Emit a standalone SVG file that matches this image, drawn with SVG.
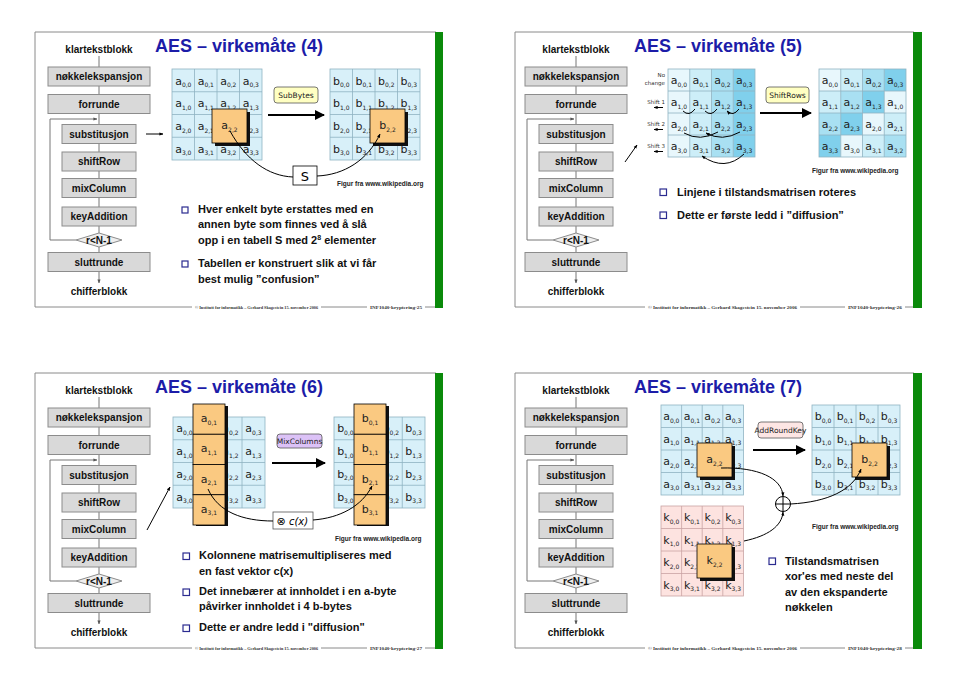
<svg xmlns="http://www.w3.org/2000/svg" width="960" height="684" viewBox="0 0 960 684">
<defs>
<style>
.frame{fill:none;stroke:#8a8a8a;stroke-width:1}
.green{fill:#0a8a0a}
.box{fill:#d9d9d9;stroke:#8c8c8c;stroke-width:1}
.dia{fill:#eeeeee;stroke:#8c8c8c;stroke-width:1}
.ln{fill:none;stroke:#777;stroke-width:1}
.lbl{font-family:"Liberation Sans",Arial,sans-serif;font-weight:bold;font-size:10px;fill:#111;text-anchor:middle}
.title{font-family:"Liberation Sans",Arial,sans-serif;font-weight:bold;font-size:18px;fill:#1c1ca8}
.body{font-family:"Liberation Sans",Arial,sans-serif;font-weight:bold;font-size:11px;fill:#111}
.fig{font-family:"Liberation Sans",Arial,sans-serif;font-weight:bold;font-size:6.5px;fill:#222}
.foot{font-family:"Liberation Serif","Times New Roman",serif;font-weight:bold;font-size:4.4px;fill:#333}
.bul{fill:#fff;stroke:#2b2b90;stroke-width:1.2}
.cell{fill:#d8f0f9;stroke:#8fb3c2;stroke-width:0.8}
.key{fill:#fde3e0;stroke:#c9a3a3;stroke-width:0.8}
.grid{fill:none;stroke:#8fb3c2;stroke-width:0.8}
.kgrid{fill:none;stroke:#c9a3a3;stroke-width:0.8}
.m{font-family:"DejaVu Sans",Verdana,sans-serif;font-size:11px;fill:#222;text-anchor:middle}
.s{font-size:6px}
.or{fill:#fac981;stroke:#000;stroke-width:0.8}
.sh{fill:#111}
.tag{font-family:"DejaVu Sans",Verdana,sans-serif;font-size:7.5px;fill:#222;text-anchor:middle}
.big{fill:none;stroke:#000;stroke-width:2}
.cur{fill:none;stroke:#000;stroke-width:1}
.sl{font-family:"DejaVu Sans",Verdana,sans-serif;font-size:5.5px;fill:#333;text-anchor:end}
</style>
<marker id="ah" viewBox="0 0 10 10" refX="9" refY="5" markerWidth="5" markerHeight="5" orient="auto"><path d="M0,0L10,5L0,10z" fill="#000"/></marker>
<marker id="as" viewBox="0 0 10 10" refX="9" refY="5" markerWidth="4" markerHeight="4" orient="auto"><path d="M0,1L10,5L0,9z" fill="#000"/></marker>
<marker id="ag" viewBox="0 0 10 10" refX="9" refY="5" markerWidth="4" markerHeight="4" orient="auto"><path d="M0,1L10,5L0,9z" fill="#555"/></marker>
</defs>
<rect width="960" height="684" fill="#fff"/>

<!-- ================= SLIDE FRAMES ================= -->
<g id="frames">
<path class="frame" d="M35,307V32H436"/>
<rect class="green" x="435" y="32" width="8" height="276"/>
<path class="frame" d="M35,307H192M321,307H367M425,307H435"/>
<path class="frame" d="M515,307V32H914"/>
<rect class="green" x="913" y="32" width="9" height="276"/>
<path class="frame" d="M515,307H645M800,307H845M905,307H913"/>
<path class="frame" d="M35,648V373H436"/>
<rect class="green" x="435" y="373" width="8" height="276"/>
<path class="frame" d="M35,648H192M321,648H367M425,648H435"/>
<path class="frame" d="M515,648V373H914"/>
<rect class="green" x="913" y="373" width="9" height="276"/>
<path class="frame" d="M515,648H645M800,648H845M905,648H913"/>
</g>

<g id="footers">
<text class="foot" x="195" y="308.5" textLength="123" lengthAdjust="spacingAndGlyphs">© Institutt for informatikk – Gerhard Skagestein 15. november 2006</text>
<text class="foot" x="370" y="308.5" textLength="52" lengthAdjust="spacingAndGlyphs">INF1040-kryptering-25</text>
<text class="foot" x="648" y="308.5" textLength="149" lengthAdjust="spacingAndGlyphs">© Institutt for informatikk – Gerhard Skagestein 15. november 2006</text>
<text class="foot" x="848" y="308.5" textLength="54" lengthAdjust="spacingAndGlyphs">INF1040-kryptering-26</text>
<text class="foot" x="195" y="649.5" textLength="123" lengthAdjust="spacingAndGlyphs">© Institutt for informatikk – Gerhard Skagestein 15. november 2006</text>
<text class="foot" x="370" y="649.5" textLength="52" lengthAdjust="spacingAndGlyphs">INF1040-kryptering-27</text>
<text class="foot" x="648" y="649.5" textLength="149" lengthAdjust="spacingAndGlyphs">© Institutt for informatikk – Gerhard Skagestein 15. november 2006</text>
<text class="foot" x="848" y="649.5" textLength="54" lengthAdjust="spacingAndGlyphs">INF1040-kryptering-28</text>
</g>

<g id="titles">
<text class="title" x="155" y="52">AES – virkemåte (4)</text>
<text class="title" x="634" y="52">AES – virkemåte (5)</text>
<text class="title" x="155" y="393">AES – virkemåte (6)</text>
<text class="title" x="634" y="393">AES – virkemåte (7)</text>
</g>

<!-- ================= FLOW COLUMNS ================= -->
<g id="col1">
<g id="c1-connectors">
<path class="ln" d="M99,56V67M99,86V94.5M99,113.5V124.5M99,143.5V152M99,171V178.5M99,197.5V207M99,226V233M99,247V252.5"/>
<path class="ln" d="M99,271.5V283" marker-end="url(#ag)"/>
<path class="ln" d="M76,240H50V119H97" marker-end="url(#ag)"/>
</g>
<g id="c1-klar"><text class="lbl" x="99" y="53">klartekstblokk</text></g>
<g id="c1-nok"><rect class="box" x="48" y="67" width="102" height="19"/><text class="lbl" x="99" y="80">nøkkelekspansjon</text></g>
<g id="c1-forr"><rect class="box" x="48" y="94.5" width="102" height="19"/><text class="lbl" x="99" y="107.5">forrunde</text></g>
<g id="c1-sub"><rect class="box" x="62" y="124.5" width="74" height="19"/><text class="lbl" x="99" y="137.5">substitusjon</text></g>
<g id="c1-shift"><rect class="box" x="62" y="152" width="74" height="19"/><text class="lbl" x="99" y="165">shiftRow</text></g>
<g id="c1-mix"><rect class="box" x="62" y="178.5" width="74" height="19"/><text class="lbl" x="99" y="191.5">mixColumn</text></g>
<g id="c1-key"><rect class="box" x="62" y="207" width="74" height="19"/><text class="lbl" x="99" y="220">keyAddition</text></g>
<g id="c1-dia"><path class="dia" d="M76,240L99,233L122,240L99,247Z"/><text class="lbl" x="99" y="243.5">r&lt;N-1</text></g>
<g id="c1-slutt"><rect class="box" x="48" y="252.5" width="102" height="19"/><text class="lbl" x="99" y="265.5">sluttrunde</text></g>
<g id="c1-chif"><text class="lbl" x="99" y="295">chifferblokk</text></g>
</g>
<use href="#col1" transform="translate(477,0)"/>
<use href="#col1" transform="translate(0,341)"/>
<use href="#col1" transform="translate(477,341)"/>

<g id="pointers">
<path class="cur" d="M146,134H163" marker-end="url(#as)"/>
<path class="cur" d="M625,162L637,145" marker-end="url(#as)"/>
<path class="cur" d="M147,530L170,487" marker-end="url(#as)"/>
</g>

<!-- ================= SLIDE 1: SubBytes ================= -->
<g id="s1-fig">
<g id="s1-amat">
<rect class="cell" x="172" y="69" width="90" height="91"/>
<path class="grid" d="M194.5,69V160M217,69V160M239.5,69V160M172,91.75H262M172,114.5H262M172,137.25H262"/>
<text class="m" x="183.3" y="84.5">a<tspan class="s" dy="2.5">0,0</tspan></text>
<text class="m" x="205.8" y="84.5">a<tspan class="s" dy="2.5">0,1</tspan></text>
<text class="m" x="228.3" y="84.5">a<tspan class="s" dy="2.5">0,2</tspan></text>
<text class="m" x="250.8" y="84.5">a<tspan class="s" dy="2.5">0,3</tspan></text>
<text class="m" x="183.3" y="107.3">a<tspan class="s" dy="2.5">1,0</tspan></text>
<text class="m" x="205.8" y="107.3">a<tspan class="s" dy="2.5">1,1</tspan></text>
<text class="m" x="228.3" y="107.3">a<tspan class="s" dy="2.5">1,2</tspan></text>
<text class="m" x="250.8" y="107.3">a<tspan class="s" dy="2.5">1,3</tspan></text>
<text class="m" x="183.3" y="130">a<tspan class="s" dy="2.5">2,0</tspan></text>
<text class="m" x="205.8" y="130">a<tspan class="s" dy="2.5">2,1</tspan></text>
<text class="m" x="250.8" y="130">a<tspan class="s" dy="2.5">2,3</tspan></text>
<text class="m" x="183.3" y="152.8">a<tspan class="s" dy="2.5">3,0</tspan></text>
<text class="m" x="205.8" y="152.8">a<tspan class="s" dy="2.5">3,1</tspan></text>
<text class="m" x="228.3" y="152.8">a<tspan class="s" dy="2.5">3,2</tspan></text>
<text class="m" x="250.8" y="152.8">a<tspan class="s" dy="2.5">3,3</tspan></text>
<rect class="sh" x="215" y="112" width="35" height="34"/>
<rect class="or" x="212" y="109" width="35" height="34"/>
<text class="m" x="229.5" y="129">a<tspan class="s" dy="2.5">2,2</tspan></text>
</g>
<g id="s1-bmat">
<rect class="cell" x="330" y="69" width="90" height="91"/>
<path class="grid" d="M352.5,69V160M375,69V160M397.5,69V160M330,91.75H420M330,114.5H420M330,137.25H420"/>
<text class="m" x="341.3" y="84.5">b<tspan class="s" dy="2.5">0,0</tspan></text>
<text class="m" x="363.8" y="84.5">b<tspan class="s" dy="2.5">0,1</tspan></text>
<text class="m" x="386.3" y="84.5">b<tspan class="s" dy="2.5">0,2</tspan></text>
<text class="m" x="408.8" y="84.5">b<tspan class="s" dy="2.5">0,3</tspan></text>
<text class="m" x="341.3" y="107.3">b<tspan class="s" dy="2.5">1,0</tspan></text>
<text class="m" x="363.8" y="107.3">b<tspan class="s" dy="2.5">1,1</tspan></text>
<text class="m" x="386.3" y="107.3">b<tspan class="s" dy="2.5">1,2</tspan></text>
<text class="m" x="408.8" y="107.3">b<tspan class="s" dy="2.5">1,3</tspan></text>
<text class="m" x="341.3" y="130">b<tspan class="s" dy="2.5">2,0</tspan></text>
<text class="m" x="363.8" y="130">b<tspan class="s" dy="2.5">2,1</tspan></text>
<text class="m" x="408.8" y="130">b<tspan class="s" dy="2.5">2,3</tspan></text>
<text class="m" x="341.3" y="152.8">b<tspan class="s" dy="2.5">3,0</tspan></text>
<text class="m" x="363.8" y="152.8">b<tspan class="s" dy="2.5">3,1</tspan></text>
<text class="m" x="386.3" y="152.8">b<tspan class="s" dy="2.5">3,2</tspan></text>
<text class="m" x="408.8" y="152.8">b<tspan class="s" dy="2.5">3,3</tspan></text>
<rect class="sh" x="373" y="112" width="35" height="34"/>
<rect class="or" x="370" y="109" width="35" height="34"/>
<text class="m" x="387.5" y="129">b<tspan class="s" dy="2.5">2,2</tspan></text>
</g>
<g id="s1-op"><rect x="274" y="87" width="44" height="16" rx="3" fill="#ffffc2" stroke="#555" stroke-width="0.8"/><text class="tag" x="296" y="98">SubBytes</text></g>
<path class="big" d="M268,115H324" marker-end="url(#ah)"/>
<g id="s1-S"><rect x="293" y="166" width="24" height="19" fill="#fff" stroke="#000" stroke-width="0.8"/><text x="305" y="180.5" font-family="DejaVu Sans,Verdana,sans-serif" font-size="13" text-anchor="middle">S</text></g>
<path class="cur" d="M230,131C246,160 268,176 293,177"/>
<path class="cur" d="M317,176C344,175 368,160 380,134" marker-end="url(#as)"/>
<text class="fig" x="337" y="185.5">Figur fra www.wikipedia.org</text>
</g>
<g id="s1-text">
<rect class="bul" x="182" y="207" width="6" height="6"/>
<text class="body" x="198" y="213">Hver enkelt byte erstattes med en</text>
<text class="body" x="198" y="228">annen byte som finnes ved å slå</text>
<text class="body" x="198" y="244">opp i en tabell S med 2<tspan font-size="7" dy="-4">8</tspan><tspan dy="4"> elementer</tspan></text>
<rect class="bul" x="182" y="261" width="6" height="6"/>
<text class="body" x="198" y="267">Tabellen er konstruert slik at vi får</text>
<text class="body" x="198" y="283">best mulig ”confusion”</text>
</g>

<!-- ================= SLIDE 2: ShiftRows ================= -->
<g id="s2-fig">
<g id="s2-amat">
<rect x="668" y="69" width="21.75" height="88" fill="#e8f7fc"/>
<rect x="689.75" y="69" width="21.75" height="88" fill="#cdeef8"/>
<rect x="711.5" y="69" width="21.75" height="88" fill="#a9e0f2"/>
<rect x="733.25" y="69" width="21.75" height="88" fill="#80d0ec"/>
<rect class="grid" x="668" y="69" width="87" height="88"/>
<path class="grid" d="M689.75,69V157M711.5,69V157M733.25,69V157M668,91H755M668,113H755M668,135H755"/>
<text class="m" x="678.9" y="84">a<tspan class="s" dy="2.5">0,0</tspan></text>
<text class="m" x="700.6" y="84">a<tspan class="s" dy="2.5">0,1</tspan></text>
<text class="m" x="722.4" y="84">a<tspan class="s" dy="2.5">0,2</tspan></text>
<text class="m" x="744.1" y="84">a<tspan class="s" dy="2.5">0,3</tspan></text>
<text class="m" x="678.9" y="106">a<tspan class="s" dy="2.5">1,0</tspan></text>
<text class="m" x="700.6" y="106">a<tspan class="s" dy="2.5">1,1</tspan></text>
<text class="m" x="722.4" y="106">a<tspan class="s" dy="2.5">1,2</tspan></text>
<text class="m" x="744.1" y="106">a<tspan class="s" dy="2.5">1,3</tspan></text>
<text class="m" x="678.9" y="128">a<tspan class="s" dy="2.5">2,0</tspan></text>
<text class="m" x="700.6" y="128">a<tspan class="s" dy="2.5">2,1</tspan></text>
<text class="m" x="722.4" y="128">a<tspan class="s" dy="2.5">2,2</tspan></text>
<text class="m" x="744.1" y="128">a<tspan class="s" dy="2.5">2,3</tspan></text>
<text class="m" x="678.9" y="150">a<tspan class="s" dy="2.5">3,0</tspan></text>
<text class="m" x="700.6" y="150">a<tspan class="s" dy="2.5">3,1</tspan></text>
<text class="m" x="722.4" y="150">a<tspan class="s" dy="2.5">3,2</tspan></text>
<text class="m" x="744.1" y="150">a<tspan class="s" dy="2.5">3,3</tspan></text>
<path class="cur" stroke-width="0.7" d="M695,109Q689,117 683,111M717,109Q711,117 705,111M739,109Q733,117 727,111" marker-end="url(#as)"/>
<path class="cur" stroke-width="0.7" d="M718,132Q700,142 684,133M740,132Q722,142 706,133" marker-end="url(#as)"/>
<path class="cur" stroke-width="0.7" d="M744,154Q725,172 702,156" marker-end="url(#as)"/>
</g>
<g id="s2-rowlbl">
<text class="sl" x="665" y="77">No</text>
<text class="sl" x="665" y="85">change</text>
<text class="sl" x="665" y="104">Shift 1</text>
<path class="cur" stroke-width="0.6" d="M663,107.5H654" marker-end="url(#as)"/>
<text class="sl" x="665" y="126">Shift 2</text>
<path class="cur" stroke-width="0.6" d="M663,129.5H654" marker-end="url(#as)"/>
<text class="sl" x="665" y="148">Shift 3</text>
<path class="cur" stroke-width="0.6" d="M663,151.5H654" marker-end="url(#as)"/>
</g>
<g id="s2-bmat">
<rect x="819" y="69" width="21.75" height="22" fill="#e8f7fc"/>
<rect x="840.75" y="69" width="21.75" height="22" fill="#cdeef8"/>
<rect x="862.5" y="69" width="21.75" height="22" fill="#a9e0f2"/>
<rect x="884.25" y="69" width="21.75" height="22" fill="#80d0ec"/>
<rect x="819" y="91" width="21.75" height="22" fill="#cdeef8"/>
<rect x="840.75" y="91" width="21.75" height="22" fill="#a9e0f2"/>
<rect x="862.5" y="91" width="21.75" height="22" fill="#80d0ec"/>
<rect x="884.25" y="91" width="21.75" height="22" fill="#e8f7fc"/>
<rect x="819" y="113" width="21.75" height="22" fill="#a9e0f2"/>
<rect x="840.75" y="113" width="21.75" height="22" fill="#80d0ec"/>
<rect x="862.5" y="113" width="21.75" height="22" fill="#e8f7fc"/>
<rect x="884.25" y="113" width="21.75" height="22" fill="#cdeef8"/>
<rect x="819" y="135" width="21.75" height="22" fill="#80d0ec"/>
<rect x="840.75" y="135" width="21.75" height="22" fill="#e8f7fc"/>
<rect x="862.5" y="135" width="21.75" height="22" fill="#cdeef8"/>
<rect x="884.25" y="135" width="21.75" height="22" fill="#a9e0f2"/>
<rect class="grid" x="819" y="69" width="87" height="88"/>
<path class="grid" d="M840.75,69V157M862.5,69V157M884.25,69V157M819,91H906M819,113H906M819,135H906"/>
<text class="m" x="829.9" y="84">a<tspan class="s" dy="2.5">0,0</tspan></text>
<text class="m" x="851.6" y="84">a<tspan class="s" dy="2.5">0,1</tspan></text>
<text class="m" x="873.4" y="84">a<tspan class="s" dy="2.5">0,2</tspan></text>
<text class="m" x="895.1" y="84">a<tspan class="s" dy="2.5">0,3</tspan></text>
<text class="m" x="829.9" y="106">a<tspan class="s" dy="2.5">1,1</tspan></text>
<text class="m" x="851.6" y="106">a<tspan class="s" dy="2.5">1,2</tspan></text>
<text class="m" x="873.4" y="106">a<tspan class="s" dy="2.5">1,3</tspan></text>
<text class="m" x="895.1" y="106">a<tspan class="s" dy="2.5">1,0</tspan></text>
<text class="m" x="829.9" y="128">a<tspan class="s" dy="2.5">2,2</tspan></text>
<text class="m" x="851.6" y="128">a<tspan class="s" dy="2.5">2,3</tspan></text>
<text class="m" x="873.4" y="128">a<tspan class="s" dy="2.5">2,0</tspan></text>
<text class="m" x="895.1" y="128">a<tspan class="s" dy="2.5">2,1</tspan></text>
<text class="m" x="829.9" y="150">a<tspan class="s" dy="2.5">3,3</tspan></text>
<text class="m" x="851.6" y="150">a<tspan class="s" dy="2.5">3,0</tspan></text>
<text class="m" x="873.4" y="150">a<tspan class="s" dy="2.5">3,1</tspan></text>
<text class="m" x="895.1" y="150">a<tspan class="s" dy="2.5">3,2</tspan></text>
</g>
<g id="s2-op"><rect x="766" y="87" width="43" height="16" rx="3" fill="#ffffc2" stroke="#555" stroke-width="0.8"/><text class="tag" x="787.5" y="98">ShiftRows</text></g>
<path class="big" d="M760,113H811" marker-end="url(#ah)"/>
<text class="fig" x="812" y="172.5">Figur fra www.wikipedia.org</text>
</g>
<g id="s2-text">
<rect class="bul" x="660" y="189" width="6.5" height="6.5"/>
<text class="body" x="677" y="196">Linjene i tilstandsmatrisen roteres</text>
<rect class="bul" x="660" y="212" width="6.5" height="6.5"/>
<text class="body" x="677" y="219">Dette er første ledd i ”diffusion”</text>
</g>

<!-- ================= SLIDE 3: MixColumns ================= -->
<g id="s3-fig">
<g id="s3-amat">
<rect class="cell" x="173" y="417" width="92" height="91"/>
<path class="grid" d="M196,417V508M219,417V508M242,417V508M173,439.75H265M173,462.5H265M173,485.25H265"/>
<text class="m" x="184.5" y="432.4">a<tspan class="s" dy="2.5">0,0</tspan></text>
<text class="m" x="230.5" y="432.4">a<tspan class="s" dy="2.5">0,2</tspan></text>
<text class="m" x="253.5" y="432.4">a<tspan class="s" dy="2.5">0,3</tspan></text>
<text class="m" x="184.5" y="455.1">a<tspan class="s" dy="2.5">1,0</tspan></text>
<text class="m" x="230.5" y="455.1">a<tspan class="s" dy="2.5">1,2</tspan></text>
<text class="m" x="253.5" y="455.1">a<tspan class="s" dy="2.5">1,3</tspan></text>
<text class="m" x="184.5" y="477.9">a<tspan class="s" dy="2.5">2,0</tspan></text>
<text class="m" x="230.5" y="477.9">a<tspan class="s" dy="2.5">2,2</tspan></text>
<text class="m" x="253.5" y="477.9">a<tspan class="s" dy="2.5">2,3</tspan></text>
<text class="m" x="184.5" y="500.6">a<tspan class="s" dy="2.5">3,0</tspan></text>
<text class="m" x="230.5" y="500.6">a<tspan class="s" dy="2.5">3,2</tspan></text>
<text class="m" x="253.5" y="500.6">a<tspan class="s" dy="2.5">3,3</tspan></text>
<rect class="sh" x="196" y="406" width="32" height="120"/>
<rect class="or" x="193" y="404" width="32" height="30.25"/>
<rect class="or" x="193" y="434.25" width="32" height="30.25"/>
<rect class="or" x="193" y="464.5" width="32" height="30.25"/>
<rect class="or" x="193" y="494.75" width="32" height="30.25"/>
<text class="m" x="209" y="422">a<tspan class="s" dy="2.5">0,1</tspan></text>
<text class="m" x="209" y="452.3">a<tspan class="s" dy="2.5">1,1</tspan></text>
<text class="m" x="209" y="482.5">a<tspan class="s" dy="2.5">2,1</tspan></text>
<text class="m" x="209" y="512.8">a<tspan class="s" dy="2.5">3,1</tspan></text>
</g>
<g id="s3-bmat">
<rect class="cell" x="334" y="417" width="91" height="91"/>
<path class="grid" d="M356.75,417V508M379.5,417V508M402.25,417V508M334,439.75H425M334,462.5H425M334,485.25H425"/>
<text class="m" x="345.4" y="432.4">b<tspan class="s" dy="2.5">0,0</tspan></text>
<text class="m" x="390.9" y="432.4">b<tspan class="s" dy="2.5">0,2</tspan></text>
<text class="m" x="413.6" y="432.4">b<tspan class="s" dy="2.5">0,3</tspan></text>
<text class="m" x="345.4" y="455.1">b<tspan class="s" dy="2.5">1,0</tspan></text>
<text class="m" x="390.9" y="455.1">b<tspan class="s" dy="2.5">1,2</tspan></text>
<text class="m" x="413.6" y="455.1">b<tspan class="s" dy="2.5">1,3</tspan></text>
<text class="m" x="345.4" y="477.9">b<tspan class="s" dy="2.5">2,0</tspan></text>
<text class="m" x="390.9" y="477.9">b<tspan class="s" dy="2.5">2,2</tspan></text>
<text class="m" x="413.6" y="477.9">b<tspan class="s" dy="2.5">2,3</tspan></text>
<text class="m" x="345.4" y="500.6">b<tspan class="s" dy="2.5">3,0</tspan></text>
<text class="m" x="390.9" y="500.6">b<tspan class="s" dy="2.5">3,2</tspan></text>
<text class="m" x="413.6" y="500.6">b<tspan class="s" dy="2.5">3,3</tspan></text>
<rect class="sh" x="357" y="406" width="32" height="120"/>
<rect class="or" x="354" y="404" width="32" height="30.25"/>
<rect class="or" x="354" y="434.25" width="32" height="30.25"/>
<rect class="or" x="354" y="464.5" width="32" height="30.25"/>
<rect class="or" x="354" y="494.75" width="32" height="30.25"/>
<text class="m" x="370" y="422">b<tspan class="s" dy="2.5">0,1</tspan></text>
<text class="m" x="370" y="452.3">b<tspan class="s" dy="2.5">1,1</tspan></text>
<text class="m" x="370" y="482.5">b<tspan class="s" dy="2.5">2,1</tspan></text>
<text class="m" x="370" y="512.8">b<tspan class="s" dy="2.5">3,1</tspan></text>
</g>
<g id="s3-op"><rect x="277" y="434" width="45" height="14" rx="3" fill="#dcc2f7" stroke="#555" stroke-width="0.8"/><text class="tag" x="299.5" y="443.5" font-size="6.5">MixColumns</text></g>
<path class="big" d="M272,463H325" marker-end="url(#ah)"/>
<g id="s3-cx"><rect x="273" y="512" width="40" height="17" fill="#fff" stroke="#555" stroke-width="0.8"/><text x="281" y="525" font-family="DejaVu Sans,sans-serif" font-size="11" text-anchor="middle">⊗</text><text x="298.5" y="524.5" font-family="DejaVu Sans,Verdana,sans-serif" font-size="10" font-style="italic" text-anchor="middle">c(x)</text></g>
<path class="cur" d="M208,489C218,512 243,521 273,521"/>
<path class="cur" d="M313,520C340,518 362,506 372,486" marker-end="url(#as)"/>
<text class="fig" x="335" y="540.5">Figur fra www.wikipedia.org</text>
</g>
<g id="s3-text">
<rect class="bul" x="183" y="553" width="6.5" height="6.5"/>
<text class="body" x="199" y="559">Kolonnene matrisemultipliseres med</text>
<text class="body" x="199" y="575">en fast vektor c(x)</text>
<rect class="bul" x="183" y="589" width="6.5" height="6.5"/>
<text class="body" x="199" y="595">Det innebærer at innholdet i en a-byte</text>
<text class="body" x="199" y="610">påvirker innholdet i 4 b-bytes</text>
<rect class="bul" x="183" y="625" width="6.5" height="6.5"/>
<text class="body" x="199" y="631">Dette er andre ledd i "diffusion"</text>
</g>

<!-- ================= SLIDE 4: AddRoundKey ================= -->
<g id="s4-fig">
<g id="s4-amat">
<rect class="cell" x="661" y="405" width="82.4" height="90"/>
<path class="grid" d="M681.6,405V495M702.2,405V495M722.8,405V495M661,427.5H743.4M661,450H743.4M661,472.5H743.4"/>
<text class="m" x="671.3" y="420.3">a<tspan class="s" dy="2.5">0,0</tspan></text>
<text class="m" x="691.9" y="420.3">a<tspan class="s" dy="2.5">0,1</tspan></text>
<text class="m" x="712.5" y="420.3">a<tspan class="s" dy="2.5">0,2</tspan></text>
<text class="m" x="733.1" y="420.3">a<tspan class="s" dy="2.5">0,3</tspan></text>
<text class="m" x="671.3" y="442.8">a<tspan class="s" dy="2.5">1,0</tspan></text>
<text class="m" x="691.9" y="442.8">a<tspan class="s" dy="2.5">1,1</tspan></text>
<text class="m" x="712.5" y="442.8">a<tspan class="s" dy="2.5">1,2</tspan></text>
<text class="m" x="733.1" y="442.8">a<tspan class="s" dy="2.5">1,3</tspan></text>
<text class="m" x="671.3" y="465.3">a<tspan class="s" dy="2.5">2,0</tspan></text>
<text class="m" x="691.9" y="465.3">a<tspan class="s" dy="2.5">2,1</tspan></text>
<text class="m" x="733.1" y="465.3">a<tspan class="s" dy="2.5">2,3</tspan></text>
<text class="m" x="671.3" y="487.8">a<tspan class="s" dy="2.5">3,0</tspan></text>
<text class="m" x="691.9" y="487.8">a<tspan class="s" dy="2.5">3,1</tspan></text>
<text class="m" x="712.5" y="487.8">a<tspan class="s" dy="2.5">3,2</tspan></text>
<text class="m" x="733.1" y="487.8">a<tspan class="s" dy="2.5">3,3</tspan></text>
<rect class="sh" x="700" y="446" width="35" height="34"/>
<rect class="or" x="697" y="443" width="35" height="34"/>
<text class="m" x="714.5" y="463">a<tspan class="s" dy="2.5">2,2</tspan></text>
</g>
<g id="s4-kmat">
<rect class="key" x="661" y="506" width="82.4" height="90"/>
<path class="kgrid" d="M681.6,506V596M702.2,506V596M722.8,506V596M661,528.5H743.4M661,551H743.4M661,573.5H743.4"/>
<text class="m" x="671.3" y="521.3">k<tspan class="s" dy="2.5">0,0</tspan></text>
<text class="m" x="691.9" y="521.3">k<tspan class="s" dy="2.5">0,1</tspan></text>
<text class="m" x="712.5" y="521.3">k<tspan class="s" dy="2.5">0,2</tspan></text>
<text class="m" x="733.1" y="521.3">k<tspan class="s" dy="2.5">0,3</tspan></text>
<text class="m" x="671.3" y="543.8">k<tspan class="s" dy="2.5">1,0</tspan></text>
<text class="m" x="691.9" y="543.8">k<tspan class="s" dy="2.5">1,1</tspan></text>
<text class="m" x="712.5" y="543.8">k<tspan class="s" dy="2.5">1,2</tspan></text>
<text class="m" x="733.1" y="543.8">k<tspan class="s" dy="2.5">1,3</tspan></text>
<text class="m" x="671.3" y="566.3">k<tspan class="s" dy="2.5">2,0</tspan></text>
<text class="m" x="691.9" y="566.3">k<tspan class="s" dy="2.5">2,1</tspan></text>
<text class="m" x="733.1" y="566.3">k<tspan class="s" dy="2.5">2,3</tspan></text>
<text class="m" x="671.3" y="588.8">k<tspan class="s" dy="2.5">3,0</tspan></text>
<text class="m" x="691.9" y="588.8">k<tspan class="s" dy="2.5">3,1</tspan></text>
<text class="m" x="712.5" y="588.8">k<tspan class="s" dy="2.5">3,2</tspan></text>
<text class="m" x="733.1" y="588.8">k<tspan class="s" dy="2.5">3,3</tspan></text>
<rect class="sh" x="700" y="547" width="35" height="34"/>
<rect class="or" x="697" y="544" width="35" height="34"/>
<text class="m" x="714.5" y="564">k<tspan class="s" dy="2.5">2,2</tspan></text>
</g>
<g id="s4-bmat">
<rect class="cell" x="812" y="405" width="88" height="90"/>
<path class="grid" d="M834,405V495M856,405V495M878,405V495M812,427.5H900M812,450H900M812,472.5H900"/>
<text class="m" x="823" y="420.3">b<tspan class="s" dy="2.5">0,0</tspan></text>
<text class="m" x="845" y="420.3">b<tspan class="s" dy="2.5">0,1</tspan></text>
<text class="m" x="867" y="420.3">b<tspan class="s" dy="2.5">0,2</tspan></text>
<text class="m" x="889" y="420.3">b<tspan class="s" dy="2.5">0,3</tspan></text>
<text class="m" x="823" y="442.8">b<tspan class="s" dy="2.5">1,0</tspan></text>
<text class="m" x="845" y="442.8">b<tspan class="s" dy="2.5">1,1</tspan></text>
<text class="m" x="867" y="442.8">b<tspan class="s" dy="2.5">1,2</tspan></text>
<text class="m" x="889" y="442.8">b<tspan class="s" dy="2.5">1,3</tspan></text>
<text class="m" x="823" y="465.3">b<tspan class="s" dy="2.5">2,0</tspan></text>
<text class="m" x="845" y="465.3">b<tspan class="s" dy="2.5">2,1</tspan></text>
<text class="m" x="889" y="465.3">b<tspan class="s" dy="2.5">2,3</tspan></text>
<text class="m" x="823" y="487.8">b<tspan class="s" dy="2.5">3,0</tspan></text>
<text class="m" x="845" y="487.8">b<tspan class="s" dy="2.5">3,1</tspan></text>
<text class="m" x="867" y="487.8">b<tspan class="s" dy="2.5">3,2</tspan></text>
<text class="m" x="889" y="487.8">b<tspan class="s" dy="2.5">3,3</tspan></text>
<rect class="sh" x="855" y="446" width="35" height="34"/>
<rect class="or" x="852" y="443" width="35" height="34"/>
<text class="m" x="869.5" y="463">b<tspan class="s" dy="2.5">2,2</tspan></text>
</g>
<g id="s4-op"><rect x="758" y="422" width="45" height="16" rx="3" fill="#fde6e4" stroke="#555" stroke-width="0.8"/><text class="tag" x="780.5" y="432.5" font-size="5.5">AddRoundKey</text></g>
<path class="big" d="M753,450H805" marker-end="url(#ah)"/>
<g id="s4-xor"><circle cx="783" cy="504" r="7.5" fill="#fff" stroke="#000" stroke-width="1"/><path class="cur" d="M775.5,504H790.5M783,496.5V511.5"/></g>
<path class="cur" d="M721,468C758,467 782,478 783,496" marker-end="url(#as)"/>
<path class="cur" d="M744,541C768,536 782,526 783,512" marker-end="url(#as)"/>
<path class="cur" d="M790.5,504C828,502 853,490 861,469" marker-end="url(#as)"/>
<text class="fig" x="812" y="528.5">Figur fra www.wikipedia.org</text>
</g>
<g id="s4-text">
<rect class="bul" x="769" y="558" width="6.5" height="6.5"/>
<text class="body" x="785" y="565">Tilstandsmatrisen</text>
<text class="body" x="785" y="580">xor'es med neste del</text>
<text class="body" x="785" y="596">av den ekspanderte</text>
<text class="body" x="785" y="611">nøkkelen</text>
</g>
</svg>
